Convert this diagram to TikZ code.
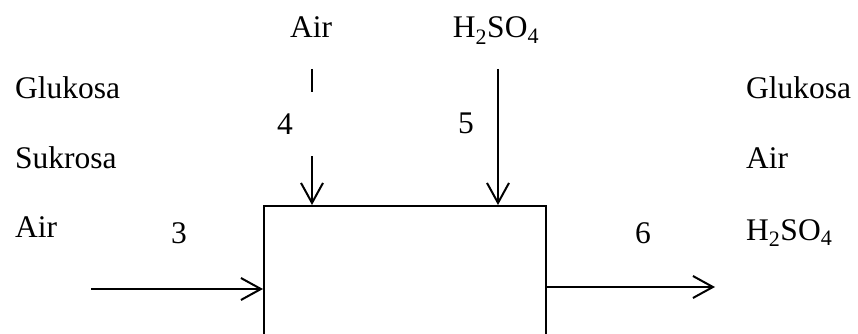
\documentclass[tikz,border=0pt]{standalone}
\usepackage{fontspec}
\setmainfont{Liberation Serif}
\usetikzlibrary{arrows.meta,positioning}
\tikzset{
  flow diagram/.style={
    x=1pt, y=-1pt,
    font=\fontsize{31.5}{36}\selectfont,
    >={Straight Barb[length=20pt,width=22pt,line width=2pt]},
    line cap=butt
  },
  streamtext/.style={anchor=base west, inner sep=0pt},
  streamno/.style={anchor=base, inner sep=0pt},
  unitbox/.style={draw, line width=2pt, minimum width=282pt, minimum height=160pt, anchor=north west, inner sep=0pt},
  streamarrow/.style={->, line width=2pt}
}
\begin{document}
\begin{tikzpicture}[flow diagram]
\useasboundingbox (0,0) rectangle (858,334);
% process unit, cut off at the bottom
\node[unitbox] (unit) at (263,205) {};

% feed components
\node[streamtext] (inglu) at (15,99) {Glukosa};
\node[streamtext] (insuk) at (15,168) {Sukrosa};
\node[streamtext] (inair) at (15,237) {Air};
% product components
\node[streamtext] (outglu) at (746,99) {Glukosa};
\node[streamtext] (outair) at (746,168) {Air};
\node[streamtext] (outacid) at (746,240) {H\textsubscript{2}SO\textsubscript{4}};
% top feeds
\node[streamno] (topair) at (311,38) {Air};
\node[streamno] (topacid) at (496,38) {H\textsubscript{2}SO\textsubscript{4}};

\coordinate (s3) at (91,289);
\coordinate (s4) at (312,69);
\coordinate (s5) at (498,69);
\coordinate (s6) at (715,287);

\draw[streamarrow] (s3) -- (s3 -| unit.west);
\draw[streamarrow] (s4) -- (s4 |- unit.north);
\draw[streamarrow] (s5) -- (s5 |- unit.north);
\draw[streamarrow] (s6 -| unit.east) -- (s6);

% stream numbers
\node[streamno] (n3) at (179,243) {3};
\node[fill=white, inner sep=0pt, minimum width=62pt, minimum height=64pt] (n4) at (285,124) {4};
\node[streamno] (n5) at (466,133) {5};
\node[streamno] (n6) at (643,243) {6};
\end{tikzpicture}
\end{document}
